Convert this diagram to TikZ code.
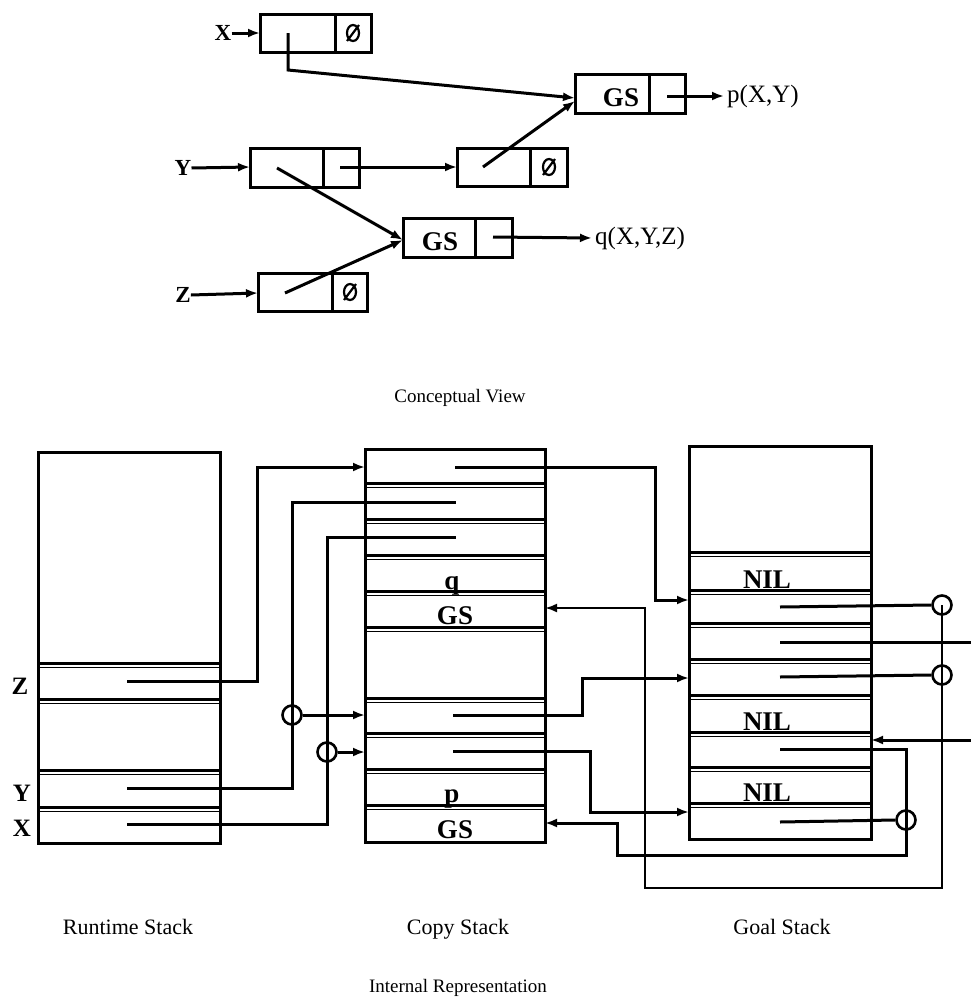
\documentclass[tikz,border=0pt]{standalone}
\usepackage{fontspec}
\setmainfont{Liberation Serif}
\usetikzlibrary{arrows.meta}
\begin{document}
\begin{tikzpicture}[x=1pt,y=-1pt,
  ln/.style={line width=3pt},
  thinln/.style={line width=2.2pt},
  hair/.style={line width=0.8pt},
  tip/.style={-{Latex[length=12pt,width=9pt]}},
  arr/.style={ln,tip},
  boxtxt/.style={font=\fontsize{27}{29}\selectfont\bfseries, inner sep=0pt},
  vartxt/.style={font=\fontsize{23}{25}\selectfont\bfseries, inner sep=0pt},
  reftxt/.style={font=\fontsize{25}{27}\selectfont, inner sep=0pt},
  stxt/.style={font=\fontsize{25}{27}\selectfont\bfseries, inner sep=0pt},
  captxt/.style={font=\fontsize{19}{21}\selectfont, inner sep=0pt},
  stkcap/.style={font=\fontsize{22}{24}\selectfont, inner sep=0pt},
  ring/.style={circle, draw, line width=2.6pt, minimum size=19pt, inner sep=0pt},
  nullmark/.pic={\draw[line width=2.2pt] (0,0) ellipse [x radius=6, y radius=8];
                 \draw[line width=2.2pt] (-6,8) -- (6,-8);}
]
\useasboundingbox (0,0) rectangle (971,1007);

% ================= Conceptual view =================
% X cell
\node[vartxt] (lx) at (223,33) {X};
\draw[ln] (260,14) rectangle (371,52); \draw[ln] (335,14) -- (335,52);
\pic at (353,33) {nullmark};
\coordinate (xbox) at (260,33);
\coordinate (xp) at (288,33);
\draw[arr] (lx.east) -- (xbox);

% GS cell for p
\draw[ln] (575,74) rectangle (685,113); \draw[ln] (649,74) -- (649,113);
\node[boxtxt, anchor=base] (gsp) at (621,106) {GS};
\coordinate (gpin) at (575,98);
\coordinate (gpin2) at (575,101);
\coordinate (ps) at (667,96);
\node[reftxt, anchor=west] (pl) at (727,96) {p(X,Y)};
\draw[arr] (ps) -- ([xshift=-3pt]pl.west);
\draw[arr] (xp) -- (288,70) -- (gpin);

% cell 4 (Y chain)
\draw[ln] (457,148) rectangle (567,186); \draw[ln] (530,148) -- (530,186);
\pic at (549,167) {nullmark};
\coordinate (b4in) at (457,167);
\coordinate (b4p) at (483,167);
\draw[arr] (b4p) -- (gpin2);

% Y cell
\node[vartxt] (ly) at (183,168) {Y};
\draw[ln] (250,148) rectangle (359,187); \draw[ln] (323,148) -- (323,187);
\coordinate (ybox) at (250,167);
\coordinate (ys) at (340,167);
\coordinate (yp) at (277,168);
\draw[arr] (ly.east) -- (ybox);
\draw[arr] (ys) -- (b4in);

% GS cell for q
\draw[ln] (403,218) rectangle (512,257); \draw[ln] (475,218) -- (475,257);
\node[boxtxt, anchor=base] (gsq) at (440,250) {GS};
\coordinate (gqin) at (403,240);
\coordinate (qs) at (493,237);
\node[reftxt, anchor=west] (ql) at (595,238) {q(X,Y,Z)};
\draw[arr] (qs) -- ([xshift=-3pt]ql.west);
\draw[arr] (yp) -- (gqin);

% Z cell
\node[vartxt] (lz) at (183,295) {Z};
\draw[ln] (258,273) rectangle (367,311); \draw[ln] (332,273) -- (332,311);
\pic at (350,292) {nullmark};
\coordinate (zbox) at (258,293);
\coordinate (zp) at (285,293);
\draw[arr] (lz.east) -- (zbox);
\draw[arr] (zp) -- (gqin);

\node[captxt, anchor=base] (cv) at (460,402) {Conceptual View};

% ================= Internal representation =================
% Runtime stack
\draw[ln] (38,452) rectangle (220,843);
\foreach \yy in {663,699,770,807} {
  \draw[ln] (38,\yy) -- (220,\yy);
  \draw[hair] (38,\yy+4.5) -- (220,\yy+4.5);
}
\node[stxt] (rlz) at (20,686) {Z};
\node[stxt] (rly) at (22,793) {Y};
\node[stxt] (rlx) at (22,828) {X};
\coordinate (rz) at (127,681);
\coordinate (ry) at (127,788);
\coordinate (rx) at (127,824);

% Copy stack
\draw[ln] (365,449) rectangle (545,842);
\foreach \yy in {483,519,555,591,627,698,733,769,805} {
  \draw[ln] (365,\yy) -- (545,\yy);
  \draw[hair] (365,\yy+4.5) -- (545,\yy+4.5);
}
\node[boxtxt, anchor=base] (cq) at (452,589) {q};
\node[boxtxt, anchor=base] (cgs1) at (455,624) {GS};
\node[boxtxt, anchor=base] (cp) at (452,802) {p};
\node[boxtxt, anchor=base] (cgs2) at (455,838) {GS};
\coordinate (c1in) at (365,467);
\coordinate (c1p) at (455,467);
\coordinate (cy) at (456,502);
\coordinate (cx) at (456,537);
\coordinate (cqin) at (545,608);
\coordinate (c5in) at (365,715);
\coordinate (c5p) at (453,715);
\coordinate (c6in) at (365,752);
\coordinate (c6p) at (453,751);
\coordinate (cpin) at (545,823);

% Goal stack
\draw[ln] (689,446) rectangle (871,839);
\foreach \yy in {552,590,623,659,695,732,767,803} {
  \draw[ln] (689,\yy) -- (871,\yy);
  \draw[hair] (689,\yy+4.5) -- (871,\yy+4.5);
}
\node[boxtxt, anchor=base] (nil1) at (767,588) {NIL};
\node[boxtxt, anchor=base] (nil2) at (767,730) {NIL};
\node[boxtxt, anchor=base] (nil3) at (767,801) {NIL};
\coordinate (gin1) at (689,600);
\coordinate (gin2) at (689,678);
\coordinate (gin3) at (689,812);
\coordinate (g2p) at (780,607);
\coordinate (g3p) at (780,642);
\coordinate (g4p) at (780,677);
\coordinate (g6p) at (780,749);
\coordinate (g7p) at (780,822);
\coordinate (grin) at (871,740);
\coordinate (ext1) at (971,642);
\coordinate (ext2) at (971,740);

% rings
\node[ring] (rc1) at (292,715) {};
\node[ring] (rc2) at (327,752) {};
\node[ring] (rg1) at (942,605) {};
\node[ring] (rg2) at (942,675) {};
\node[ring] (rg3) at (906,820) {};

% runtime -> copy
\draw[arr] (rz) -| (257,467) -- (c1in);
\draw[ln] (ry) -| (292,502) -- (cy);
\draw[ln] (rx) -| (327,537) -- (cx);
\draw[arr] (rc1.east) -- (c5in);
\draw[arr] (rc2.east) -- (c6in);

% copy -> goal
\draw[arr] (c1p) -| (655,600) -- (gin1);
\draw[arr] (c5p) -| (582,678) -- (gin2);
\draw[arr] (c6p) -| (590,812) -- (gin3);

% goal pointers
\draw[ln] (g2p) -- (rg1.west);
\draw[ln] (g3p) -- (ext1);
\draw[ln] (g4p) -- (rg2.west);
\draw[ln] (g7p) -- (rg3.west);
\draw[arr] (ext2) -- (grin);

% loops back to copy stack
\draw[thinln,tip] (rg1.center) |- (645,888) |- (cqin);
\draw[arr] (g6p) -| (906,855) -| (617,823) -- (cpin);

% captions
\node[stkcap, anchor=base] (rtl) at (128,934) {Runtime Stack};
\node[stkcap, anchor=base] (csl) at (458,934) {Copy Stack};
\node[stkcap, anchor=base] (gsl) at (782,934) {Goal Stack};
\node[captxt, anchor=base] (irl) at (458,992) {Internal Representation};
\end{tikzpicture}
\end{document}
